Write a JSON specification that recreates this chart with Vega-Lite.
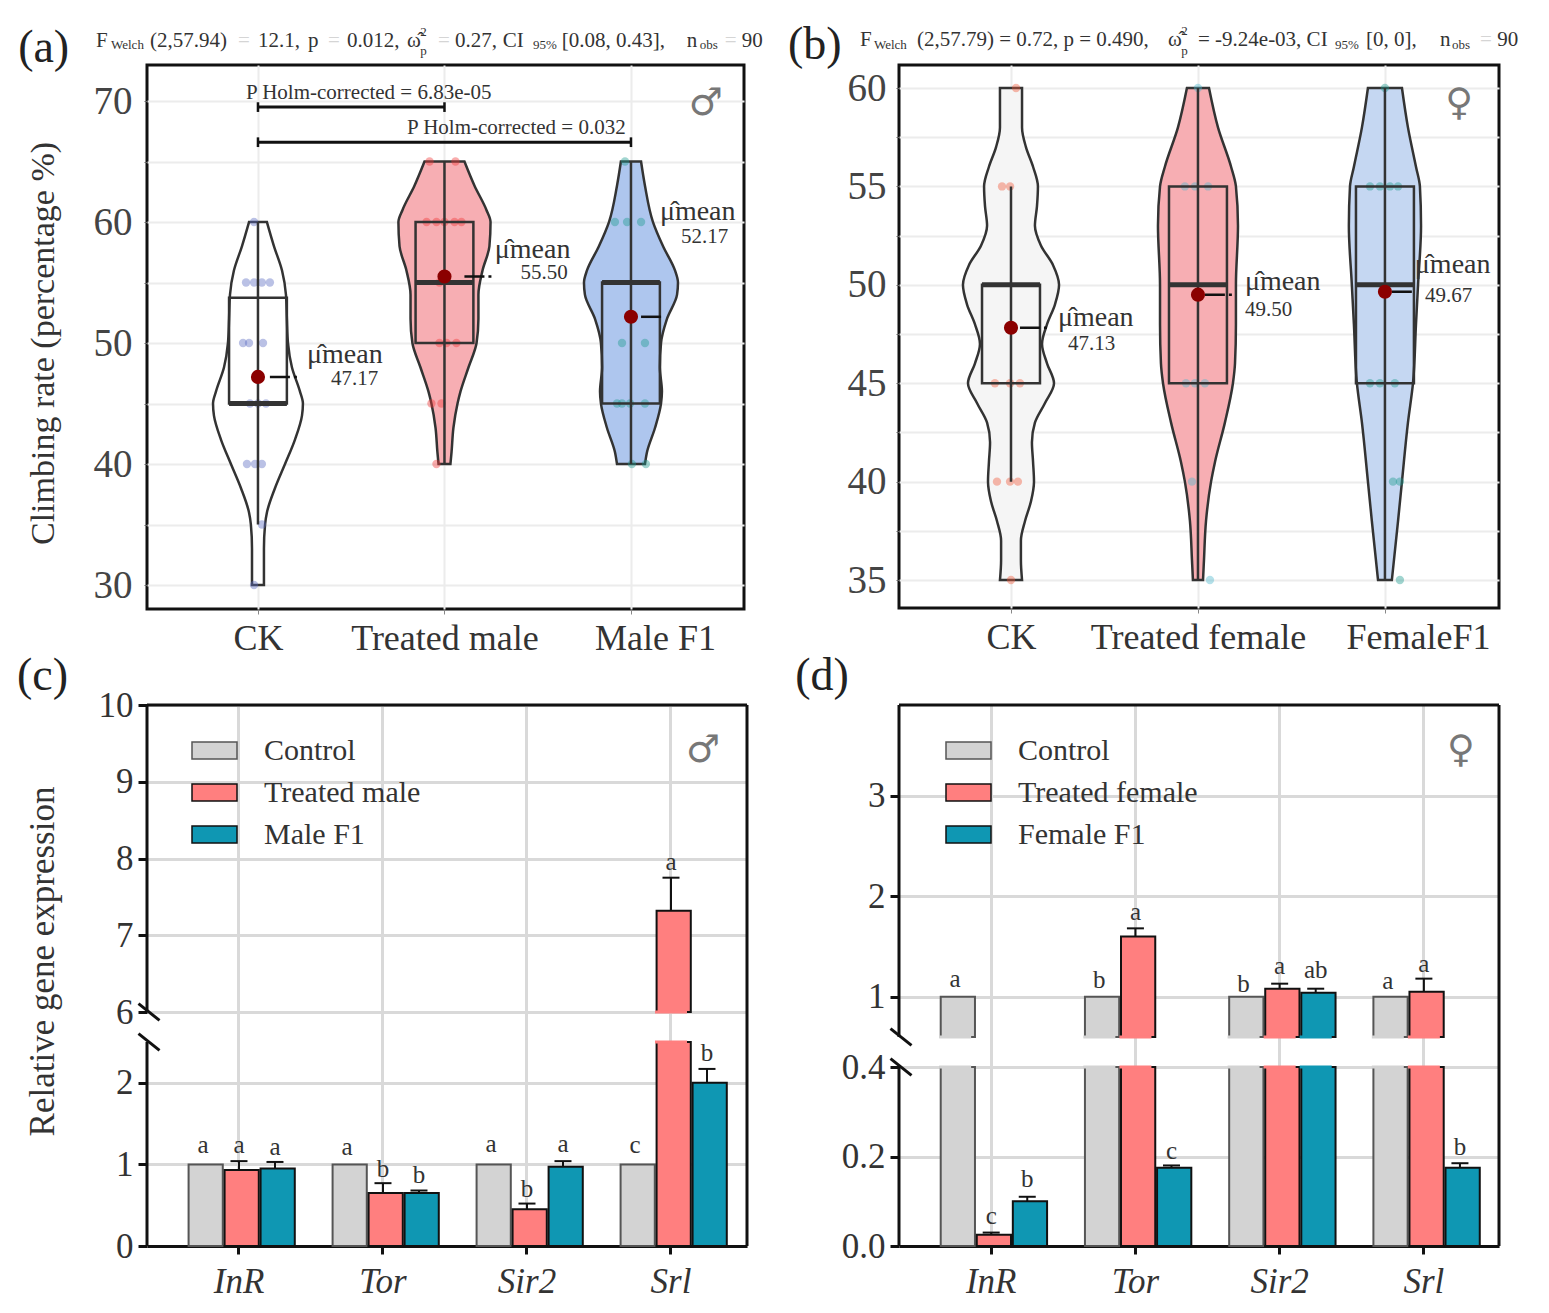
{"$schema":"https://vega.github.io/schema/vega-lite/v6.json","background":"white","padding":{"left":16,"top":20,"right":0,"bottom":0},"config":{"font":"Liberation Serif","axis":{"labelFont":"Liberation Serif","titleFont":"Liberation Serif","titleFontWeight":"normal"},"legend":{"labelFont":"Liberation Serif"}},
"datasets":{
"aV":[{"g":"CK","v":60,"lo":0.952,"hi":1.048},{"g":"CK","v":58,"lo":0.914,"hi":1.086},{"g":"CK","v":56,"lo":0.871,"hi":1.129},{"g":"CK","v":54,"lo":0.85,"hi":1.15},{"g":"CK","v":52,"lo":0.845,"hi":1.155},{"g":"CK","v":50,"lo":0.839,"hi":1.161},{"g":"CK","v":48,"lo":0.818,"hi":1.182},{"g":"CK","v":46,"lo":0.775,"hi":1.225},{"g":"CK","v":45,"lo":0.759,"hi":1.241},{"g":"CK","v":44,"lo":0.764,"hi":1.236},{"g":"CK","v":42,"lo":0.802,"hi":1.198},{"g":"CK","v":40,"lo":0.855,"hi":1.145},{"g":"CK","v":38,"lo":0.909,"hi":1.091},{"g":"CK","v":36,"lo":0.952,"hi":1.048},{"g":"CK","v":35,"lo":0.962,"hi":1.038},{"g":"CK","v":33,"lo":0.968,"hi":1.032},{"g":"CK","v":30,"lo":0.968,"hi":1.032},
{"g":"T","v":65,"lo":1.893,"hi":2.107},{"g":"T","v":63,"lo":1.839,"hi":2.161},{"g":"T","v":61,"lo":1.775,"hi":2.225},{"g":"T","v":60,"lo":1.753,"hi":2.247},{"g":"T","v":58,"lo":1.759,"hi":2.241},{"g":"T","v":56,"lo":1.796,"hi":2.204},{"g":"T","v":54,"lo":1.818,"hi":2.182},{"g":"T","v":52,"lo":1.818,"hi":2.182},{"g":"T","v":50,"lo":1.828,"hi":2.172},{"g":"T","v":48,"lo":1.871,"hi":2.129},{"g":"T","v":46,"lo":1.914,"hi":2.086},{"g":"T","v":45,"lo":1.93,"hi":2.07},{"g":"T","v":43,"lo":1.952,"hi":2.048},{"g":"T","v":41,"lo":1.962,"hi":2.038},{"g":"T","v":40,"lo":1.968,"hi":2.032},
{"g":"F","v":65,"lo":2.946,"hi":3.054},{"g":"F","v":63,"lo":2.925,"hi":3.075},{"g":"F","v":60,"lo":2.882,"hi":3.118},{"g":"F","v":58,"lo":2.828,"hi":3.172},{"g":"F","v":56,"lo":2.764,"hi":3.236},{"g":"F","v":55,"lo":2.748,"hi":3.252},{"g":"F","v":54,"lo":2.753,"hi":3.247},{"g":"F","v":52,"lo":2.807,"hi":3.193},{"g":"F","v":50,"lo":2.839,"hi":3.161},{"g":"F","v":48,"lo":2.845,"hi":3.155},{"g":"F","v":46,"lo":2.834,"hi":3.166},{"g":"F","v":45,"lo":2.839,"hi":3.161},{"g":"F","v":43,"lo":2.871,"hi":3.129},{"g":"F","v":41,"lo":2.914,"hi":3.086},{"g":"F","v":40,"lo":2.925,"hi":3.075}],
"aD":[{"g":"CK","x":0.979,"v":60},{"g":"CK","x":0.936,"v":55},{"g":"CK","x":0.979,"v":55},{"g":"CK","x":1.021,"v":55},{"g":"CK","x":1.064,"v":55},{"g":"CK","x":0.92,"v":50},{"g":"CK","x":0.952,"v":50},{"g":"CK","x":1.027,"v":50},{"g":"CK","x":0.957,"v":45},{"g":"CK","x":1,"v":45},{"g":"CK","x":1.043,"v":45},{"g":"CK","x":0.941,"v":40},{"g":"CK","x":0.984,"v":40},{"g":"CK","x":1.021,"v":40},{"g":"CK","x":1.021,"v":35},{"g":"CK","x":0.979,"v":30},
{"g":"T","x":1.92,"v":65},{"g":"T","x":2.059,"v":65},{"g":"T","x":1.904,"v":60},{"g":"T","x":1.957,"v":60},{"g":"T","x":2,"v":60},{"g":"T","x":2.054,"v":60},{"g":"T","x":2.091,"v":60},{"g":"T","x":1.973,"v":55},{"g":"T","x":1.973,"v":50},{"g":"T","x":2.011,"v":50},{"g":"T","x":2.064,"v":50},{"g":"T","x":1.93,"v":45},{"g":"T","x":1.984,"v":45},{"g":"T","x":1.957,"v":40},
{"g":"F","x":2.968,"v":65},{"g":"F","x":2.914,"v":60},{"g":"F","x":2.979,"v":60},{"g":"F","x":3.054,"v":60},{"g":"F","x":2.952,"v":50},{"g":"F","x":3.075,"v":50},{"g":"F","x":2.925,"v":45},{"g":"F","x":2.952,"v":45},{"g":"F","x":2.995,"v":45},{"g":"F","x":3.075,"v":45},{"g":"F","x":3.005,"v":40},{"g":"F","x":3.08,"v":40}],
"aB":[{"g":"CK","p":1,"x0":0.845,"x1":1.155,"q1":45,"q3":53.75,"med":45,"wl":35,"wh":60,"mean":47.2,"d0":1.064,"d1":1.236},{"g":"T","p":2,"x0":1.845,"x1":2.155,"q1":50,"q3":60,"med":55,"wl":40,"wh":65,"mean":55.5,"d0":2.107,"d1":2.252},{"g":"F","p":3,"x0":2.845,"x1":3.155,"q1":45,"q3":55,"med":55,"wl":40,"wh":65,"mean":52.17,"d0":3.054,"d1":3.172}],
"aT":[{"k":"t","x":0.132,"y":74.96,"s":"F"},{"k":"s","x":0.212,"y":74.63,"s":"Welch"},{"k":"t","x":0.421,"y":74.96,"s":"(2,57.94)"},{"k":"t","x":0.893,"y":74.96,"s":"="},{"k":"t","x":1,"y":74.96,"s":"12.1,"},{"k":"t","x":1.268,"y":74.96,"s":"p"},{"k":"t","x":1.375,"y":74.96,"s":"="},{"k":"t","x":1.477,"y":74.96,"s":"0.012,"},{"k":"t","x":1.799,"y":74.96,"s":"ω̂"},{"k":"s","x":1.87,"y":75.7,"s":"2"},{"k":"s","x":1.87,"y":74.13,"s":"p"},{"k":"t","x":1.965,"y":74.96,"s":"="},{"k":"t","x":2.056,"y":74.96,"s":"0.27,"},{"k":"t","x":2.313,"y":74.96,"s":"CI"},{"k":"s","x":2.474,"y":74.63,"s":"95%"},{"k":"t","x":2.629,"y":74.96,"s":"[0.08, 0.43],"},{"k":"t","x":3.299,"y":74.96,"s":"n"},{"k":"s","x":3.369,"y":74.63,"s":"obs"},{"k":"t","x":3.503,"y":74.96,"s":"="},{"k":"t","x":3.594,"y":74.96,"s":"90"},
{"k":"t","x":0.936,"y":70.66,"s":"P Holm-corrected = 6.83e-05"},{"k":"t","x":1.799,"y":67.77,"s":"P Holm-corrected = 0.032"},
{"k":"m","x":1.263,"y":49,"s":"μ̂mean"},{"k":"t","x":1.391,"y":47,"s":"47.17"},{"k":"m","x":2.27,"y":57.7,"s":"μ̂mean"},{"k":"t","x":2.407,"y":55.75,"s":"55.50"},{"k":"m","x":3.155,"y":60.8,"s":"μ̂mean"},{"k":"t","x":3.268,"y":58.8,"s":"52.17"},
{"k":"b","x":-0.286,"y":74.38,"s":"(a)"}],
"bV":[{"g":"CK","v":60,"lo":0.941,"hi":1.059},{"g":"CK","v":58,"lo":0.941,"hi":1.059},{"g":"CK","v":57,"lo":0.92,"hi":1.08},{"g":"CK","v":56,"lo":0.882,"hi":1.118},{"g":"CK","v":55,"lo":0.856,"hi":1.144},{"g":"CK","v":54,"lo":0.861,"hi":1.139},{"g":"CK","v":53,"lo":0.872,"hi":1.128},{"g":"CK","v":52,"lo":0.84,"hi":1.16},{"g":"CK","v":51,"lo":0.775,"hi":1.225},{"g":"CK","v":50,"lo":0.743,"hi":1.257},{"g":"CK","v":49,"lo":0.765,"hi":1.235},{"g":"CK","v":48,"lo":0.807,"hi":1.193},{"g":"CK","v":47,"lo":0.834,"hi":1.166},{"g":"CK","v":46,"lo":0.807,"hi":1.193},{"g":"CK","v":45,"lo":0.77,"hi":1.23},{"g":"CK","v":44,"lo":0.818,"hi":1.182},{"g":"CK","v":43,"lo":0.872,"hi":1.128},{"g":"CK","v":42,"lo":0.888,"hi":1.112},{"g":"CK","v":41,"lo":0.882,"hi":1.118},{"g":"CK","v":40,"lo":0.877,"hi":1.123},{"g":"CK","v":39,"lo":0.893,"hi":1.107},{"g":"CK","v":38,"lo":0.925,"hi":1.075},{"g":"CK","v":37,"lo":0.947,"hi":1.053},{"g":"CK","v":36,"lo":0.947,"hi":1.053},{"g":"CK","v":35,"lo":0.941,"hi":1.059},
{"g":"T","v":60,"lo":1.941,"hi":2.059},{"g":"T","v":58,"lo":1.893,"hi":2.107},{"g":"T","v":56,"lo":1.823,"hi":2.177},{"g":"T","v":55,"lo":1.797,"hi":2.203},{"g":"T","v":53,"lo":1.786,"hi":2.214},{"g":"T","v":50,"lo":1.797,"hi":2.203},{"g":"T","v":48,"lo":1.797,"hi":2.203},{"g":"T","v":46,"lo":1.802,"hi":2.198},{"g":"T","v":45,"lo":1.813,"hi":2.187},{"g":"T","v":43,"lo":1.856,"hi":2.144},{"g":"T","v":41,"lo":1.909,"hi":2.091},{"g":"T","v":40,"lo":1.93,"hi":2.07},{"g":"T","v":38,"lo":1.957,"hi":2.043},{"g":"T","v":36,"lo":1.968,"hi":2.032},{"g":"T","v":35,"lo":1.973,"hi":2.027},
{"g":"F","v":60,"lo":2.909,"hi":3.091},{"g":"F","v":58,"lo":2.877,"hi":3.123},{"g":"F","v":56,"lo":2.834,"hi":3.166},{"g":"F","v":55,"lo":2.813,"hi":3.187},{"g":"F","v":53,"lo":2.807,"hi":3.193},{"g":"F","v":50,"lo":2.823,"hi":3.177},{"g":"F","v":48,"lo":2.834,"hi":3.166},{"g":"F","v":45,"lo":2.85,"hi":3.15},{"g":"F","v":43,"lo":2.877,"hi":3.123},{"g":"F","v":40,"lo":2.909,"hi":3.091},{"g":"F","v":38,"lo":2.93,"hi":3.07},{"g":"F","v":35,"lo":2.963,"hi":3.037}],
"bD":[{"g":"CK","x":1.027,"v":60},{"g":"CK","x":0.952,"v":55},{"g":"CK","x":0.995,"v":55},{"g":"CK","x":0.914,"v":45},{"g":"CK","x":0.995,"v":45},{"g":"CK","x":1.048,"v":45},{"g":"CK","x":0.925,"v":40},{"g":"CK","x":0.995,"v":40},{"g":"CK","x":1.037,"v":40},{"g":"CK","x":1,"v":35},
{"g":"T","x":2,"v":60},{"g":"T","x":1.93,"v":55},{"g":"T","x":1.984,"v":55},{"g":"T","x":2.054,"v":55},{"g":"T","x":1.936,"v":45},{"g":"T","x":1.984,"v":45},{"g":"T","x":2.037,"v":45},{"g":"T","x":1.968,"v":40},{"g":"T","x":2.064,"v":35},
{"g":"F","x":3,"v":60},{"g":"F","x":2.92,"v":55},{"g":"F","x":2.973,"v":55},{"g":"F","x":3.027,"v":55},{"g":"F","x":3.07,"v":55},{"g":"F","x":2.92,"v":45},{"g":"F","x":2.973,"v":45},{"g":"F","x":3.053,"v":45},{"g":"F","x":3.043,"v":40},{"g":"F","x":3.08,"v":40},{"g":"F","x":3.08,"v":35}],
"bB":[{"g":"CK","p":1,"x0":0.845,"x1":1.155,"q1":45,"q3":50,"med":50,"wl":40,"wh":55,"mean":47.82,"d0":1.048,"d1":1.209},{"g":"T","p":2,"x0":1.845,"x1":2.155,"q1":45,"q3":55,"med":50,"wl":35,"wh":60,"mean":49.5,"d0":2.037,"d1":2.225},{"g":"F","p":3,"x0":2.845,"x1":3.155,"q1":45,"q3":55,"med":50,"wl":35,"wh":60,"mean":49.65,"d0":3.037,"d1":3.144}],
"bT":[{"k":"t","x":0.192,"y":62.44,"s":"F"},{"k":"s","x":0.267,"y":62.18,"s":"Welch"},{"k":"t","x":0.497,"y":62.44,"s":"(2,57.79) = 0.72, p = 0.490,"},{"k":"t","x":1.84,"y":62.44,"s":"ω̂"},{"k":"s","x":1.91,"y":62.9,"s":"2"},{"k":"s","x":1.91,"y":61.88,"s":"p"},{"k":"t","x":2,"y":62.44,"s":"= -9.24e-03, CI"},{"k":"s","x":2.733,"y":62.18,"s":"95%"},{"k":"t","x":2.899,"y":62.44,"s":"[0, 0],"},{"k":"t","x":3.295,"y":62.44,"s":"n"},{"k":"s","x":3.359,"y":62.18,"s":"obs"},{"k":"t","x":3.509,"y":62.44,"s":"="},{"k":"t","x":3.6,"y":62.44,"s":"90"},
{"k":"m","x":1.251,"y":48.3,"s":"μ̂mean"},{"k":"t","x":1.305,"y":46.97,"s":"47.13"},{"k":"m","x":2.251,"y":50.13,"s":"μ̂mean"},{"k":"t","x":2.251,"y":48.7,"s":"49.50"},{"k":"m","x":3.16,"y":50.99,"s":"μ̂mean"},{"k":"t","x":3.214,"y":49.41,"s":"49.67"},
{"k":"b","x":-0.193,"y":62.18,"s":"(b)"}],
"cB":[{"gene":"InR","s":"Control","from":0,"to":1},{"gene":"InR","s":"Treated male","from":0,"to":0.93},{"gene":"InR","s":"Male F1","from":0,"to":0.95},{"gene":"Tor","s":"Control","from":0,"to":1},{"gene":"Tor","s":"Treated male","from":0,"to":0.65},{"gene":"Tor","s":"Male F1","from":0,"to":0.65},{"gene":"Sir2","s":"Control","from":0,"to":1},{"gene":"Sir2","s":"Treated male","from":0,"to":0.45},{"gene":"Sir2","s":"Male F1","from":0,"to":0.97},{"gene":"Srl","s":"Control","from":0,"to":1},{"gene":"Srl","s":"Treated male","from":0,"to":2.5},{"gene":"Srl","s":"Treated male","from":6,"to":7.32},{"gene":"Srl","s":"Male F1","from":0,"to":2}],
"cE":[{"gene":"InR","s":"Control","v":1,"hi":1,"l":"a","ly":1.24},{"gene":"InR","s":"Treated male","v":0.93,"hi":1.04,"l":"a","ly":1.24},{"gene":"InR","s":"Male F1","v":0.95,"hi":1.03,"l":"a","ly":1.21},{"gene":"Tor","s":"Control","v":1,"hi":1,"l":"a","ly":1.21},{"gene":"Tor","s":"Treated male","v":0.65,"hi":0.77,"l":"b","ly":0.94},{"gene":"Tor","s":"Male F1","v":0.65,"hi":0.68,"l":"b","ly":0.87},{"gene":"Sir2","s":"Control","v":1,"hi":1,"l":"a","ly":1.25},{"gene":"Sir2","s":"Treated male","v":0.45,"hi":0.52,"l":"b","ly":0.7},{"gene":"Sir2","s":"Male F1","v":0.97,"hi":1.04,"l":"a","ly":1.25},{"gene":"Srl","s":"Control","v":1,"hi":1,"l":"c","ly":1.24},{"gene":"Srl","s":"Treated male","v":7.32,"hi":7.75,"l":"a","ly":7.95},{"gene":"Srl","s":"Male F1","v":2,"hi":2.17,"l":"b","ly":2.37}],
"dB":[{"gene":"InR","s":"Control","from":0,"to":0.4},{"gene":"InR","s":"Control","from":0.6,"to":1},{"gene":"InR","s":"Treated female","from":0,"to":0.025},{"gene":"InR","s":"Female F1","from":0,"to":0.1},{"gene":"Tor","s":"Control","from":0,"to":0.4},{"gene":"Tor","s":"Control","from":0.6,"to":1},{"gene":"Tor","s":"Treated female","from":0,"to":0.4},{"gene":"Tor","s":"Treated female","from":0.6,"to":1.6},{"gene":"Tor","s":"Female F1","from":0,"to":0.175},{"gene":"Sir2","s":"Control","from":0,"to":0.4},{"gene":"Sir2","s":"Control","from":0.6,"to":1},{"gene":"Sir2","s":"Treated female","from":0,"to":0.4},{"gene":"Sir2","s":"Treated female","from":0.6,"to":1.08},{"gene":"Sir2","s":"Female F1","from":0,"to":0.4},{"gene":"Sir2","s":"Female F1","from":0.6,"to":1.04},{"gene":"Srl","s":"Control","from":0,"to":0.4},{"gene":"Srl","s":"Control","from":0.6,"to":1},{"gene":"Srl","s":"Treated female","from":0,"to":0.4},{"gene":"Srl","s":"Treated female","from":0.6,"to":1.05},{"gene":"Srl","s":"Female F1","from":0,"to":0.175}],
"dE":[{"gene":"InR","s":"Control","v":1,"hi":1,"l":"a","ly":1.18},{"gene":"InR","s":"Treated female","v":0.025,"hi":0.03,"l":"c","ly":0.067},{"gene":"InR","s":"Female F1","v":0.1,"hi":0.11,"l":"b","ly":0.149},{"gene":"Tor","s":"Control","v":1,"hi":1,"l":"b","ly":1.17},{"gene":"Tor","s":"Treated female","v":1.6,"hi":1.68,"l":"a","ly":1.845},{"gene":"Tor","s":"Female F1","v":0.175,"hi":0.18,"l":"c","ly":0.213},{"gene":"Sir2","s":"Control","v":1,"hi":1,"l":"b","ly":1.13},{"gene":"Sir2","s":"Treated female","v":1.08,"hi":1.13,"l":"a","ly":1.31},{"gene":"Sir2","s":"Female F1","v":1.04,"hi":1.08,"l":"ab","ly":1.27},{"gene":"Srl","s":"Control","v":1,"hi":1,"l":"a","ly":1.16},{"gene":"Srl","s":"Treated female","v":1.05,"hi":1.18,"l":"a","ly":1.33},{"gene":"Srl","s":"Female F1","v":0.175,"hi":0.185,"l":"b","ly":0.222}]
},
"bounds":"flush","align":"none","columns":2,"spacing":{"row":96,"column":152},
"resolve":{"scale":{"x":"independent","y":"independent","xOffset":"independent","fill":"independent","stroke":"independent","color":"independent"},"legend":{"fill":"independent","stroke":"independent","color":"independent"},"axis":{"x":"independent","y":"independent"}},
"concat":[
{"width":597,"height":544,"view":{"stroke":"#111","strokeWidth":3},"layer":[
{"data":{"name":"aV"},"mark":{"type":"area","orient":"horizontal","interpolate":"monotone","stroke":"#333","strokeWidth":2.5},"encoding":{
"y":{"field":"v","type":"quantitative","scale":{"domain":[28.02,72.98],"nice":false,"zero":false},"axis":{"values":[30,35,40,45,50,55,60,65,70],"labelExpr":"datum.value%10==0?datum.label:''","grid":true,"gridColor":"#ececec","gridWidth":2,"domain":false,"tickColor":"#666","tickSize":3,"labelFontSize":39,"labelColor":"#444","labelPadding":12,"title":"Climbing rate (percentage %)","titleFontSize":34,"titleColor":"#333","titlePadding":33,"titleY":278}},
"x":{"field":"lo","type":"quantitative","scale":{"domain":[0.405,3.606],"nice":false,"zero":false},"axis":{"values":[1,2,3],"labelExpr":"datum.value==1?'CK':datum.value==2?'Treated male':'Male F1'","labelOffset":{"condition":{"test":"datum.value==3","value":24},"value":0},"labelLimit":400,"grid":true,"gridColor":"#ececec","gridWidth":2,"domain":false,"tickColor":"#888","tickSize":5,"labelFontSize":36,"labelColor":"#333","labelPadding":7,"title":null}},
"x2":{"field":"hi"},
"fill":{"field":"g","type":"nominal","scale":{"domain":["CK","T","F"],"range":["#ffffff","#f7aeb3","#aec6ee"]},"legend":null}}},
{"data":{"name":"aD"},"mark":{"type":"circle","size":70,"opacity":0.42},"encoding":{"x":{"field":"x","type":"quantitative"},"y":{"field":"v","type":"quantitative"},"color":{"field":"g","type":"nominal","scale":{"domain":["CK","T","F"],"range":["#5a6cc0","#f03a3a","#1f9a8f"]},"legend":null}}},
{"data":{"name":"aB"},"layer":[
{"mark":{"type":"rule","color":"#333","strokeWidth":2.5},"encoding":{"x":{"field":"p","type":"quantitative"},"y":{"field":"wl","type":"quantitative"},"y2":{"field":"wh"}}},
{"mark":{"type":"rect","fill":"transparent","stroke":"#333","strokeWidth":2.5},"encoding":{"x":{"field":"x0","type":"quantitative"},"x2":{"field":"x1"},"y":{"field":"q1","type":"quantitative"},"y2":{"field":"q3"}}},
{"mark":{"type":"rule","color":"#333","strokeWidth":5},"encoding":{"x":{"field":"x0","type":"quantitative"},"x2":{"field":"x1"},"y":{"field":"med","type":"quantitative"}}},
{"mark":{"type":"rule","color":"#111","strokeWidth":2.5,"strokeDash":[20,4,3,100]},"encoding":{"x":{"field":"d0","type":"quantitative"},"x2":{"field":"d1"},"y":{"field":"mean","type":"quantitative"}}},
{"mark":{"type":"circle","size":200,"opacity":1,"color":"#8b0000"},"encoding":{"x":{"field":"p","type":"quantitative"},"y":{"field":"mean","type":"quantitative"}}}]},
{"data":{"values":[{"a":1,"b":2,"y":69.5},{"a":1,"b":3,"y":66.6}]},"mark":{"type":"rule","color":"#111","strokeWidth":3},"encoding":{"x":{"field":"a","type":"quantitative"},"x2":{"field":"b"},"y":{"field":"y","type":"quantitative"}}},
{"data":{"values":[{"x":1,"a":69.1,"b":69.9},{"x":2,"a":69.1,"b":69.9},{"x":1,"a":66.2,"b":67},{"x":3,"a":66.2,"b":67}]},"mark":{"type":"rule","color":"#111","strokeWidth":2.5},"encoding":{"x":{"field":"x","type":"quantitative"},"y":{"field":"a","type":"quantitative"},"y2":{"field":"b"}}},
{"data":{"name":"aT"},"transform":[{"filter":"datum.k=='t'"}],"mark":{"type":"text","align":"left","baseline":"middle","fontSize":21},"encoding":{"x":{"field":"x","type":"quantitative"},"y":{"field":"y","type":"quantitative"},"text":{"field":"s"},"color":{"condition":{"test":"datum.s=='='","value":"#d5d5d5"},"value":"#333"}}},
{"data":{"name":"aT"},"transform":[{"filter":"datum.k=='s'"}],"mark":{"type":"text","align":"left","baseline":"middle","fontSize":13,"color":"#333"},"encoding":{"x":{"field":"x","type":"quantitative"},"y":{"field":"y","type":"quantitative"},"text":{"field":"s"}}},
{"data":{"name":"aT"},"transform":[{"filter":"datum.k=='m'"}],"mark":{"type":"text","align":"left","baseline":"middle","fontSize":28,"color":"#333"},"encoding":{"x":{"field":"x","type":"quantitative"},"y":{"field":"y","type":"quantitative"},"text":{"field":"s"}}},
{"data":{"name":"aT"},"transform":[{"filter":"datum.k=='b'"}],"mark":{"type":"text","align":"left","baseline":"middle","fontSize":46,"color":"#222"},"encoding":{"x":{"field":"x","type":"quantitative"},"y":{"field":"y","type":"quantitative"},"text":{"field":"s"}}},
{"data":{"values":[{"x":3.401,"y":69.75,"s":"♂"}]},"mark":{"type":"text","font":"DejaVu Sans","fontSize":38,"color":"#777"},"encoding":{"x":{"field":"x","type":"quantitative"},"y":{"field":"y","type":"quantitative"},"text":{"field":"s"}}}
]},
{"width":600,"height":543,"view":{"stroke":"#111","strokeWidth":3},"layer":[
{"data":{"name":"bV"},"mark":{"type":"area","orient":"horizontal","interpolate":"monotone","stroke":"#333","strokeWidth":2.5},"encoding":{
"y":{"field":"v","type":"quantitative","scale":{"domain":[33.58,61.17],"nice":false,"zero":false},"axis":{"values":[35,37.5,40,42.5,45,47.5,50,52.5,55,57.5,60],"labelExpr":"datum.value%5==0?datum.label:''","grid":true,"gridColor":"#ececec","gridWidth":2,"domain":false,"tickColor":"#666","tickSize":3,"labelFontSize":39,"labelColor":"#444","labelPadding":10,"title":null}},
"x":{"field":"lo","type":"quantitative","scale":{"domain":[0.401,3.61],"nice":false,"zero":false},"axis":{"values":[1,2,3],"labelExpr":"datum.value==1?'CK':datum.value==2?'Treated female':'FemaleF1'","labelOffset":{"condition":{"test":"datum.value==3","value":33},"value":0},"labelLimit":400,"grid":true,"gridColor":"#ececec","gridWidth":2,"domain":false,"tickColor":"#888","tickSize":5,"labelFontSize":36,"labelColor":"#333","labelPadding":7,"title":null}},
"x2":{"field":"hi"},
"fill":{"field":"g","type":"nominal","scale":{"domain":["CK","T","F"],"range":["#f5f5f5","#f7aeb3","#c5d7f2"]},"legend":null}}},
{"data":{"name":"bD"},"mark":{"type":"circle","size":70,"opacity":0.42},"encoding":{"x":{"field":"x","type":"quantitative"},"y":{"field":"v","type":"quantitative"},"color":{"field":"g","type":"nominal","scale":{"domain":["CK","T","F"],"range":["#f05a3c","#4fb8cc","#1f9a8f"]},"legend":null}}},
{"data":{"name":"bB"},"layer":[
{"mark":{"type":"rule","color":"#333","strokeWidth":2.5},"encoding":{"x":{"field":"p","type":"quantitative"},"y":{"field":"wl","type":"quantitative"},"y2":{"field":"wh"}}},
{"mark":{"type":"rect","fill":"transparent","stroke":"#333","strokeWidth":2.5},"encoding":{"x":{"field":"x0","type":"quantitative"},"x2":{"field":"x1"},"y":{"field":"q1","type":"quantitative"},"y2":{"field":"q3"}}},
{"mark":{"type":"rule","color":"#333","strokeWidth":5},"encoding":{"x":{"field":"x0","type":"quantitative"},"x2":{"field":"x1"},"y":{"field":"med","type":"quantitative"}}},
{"mark":{"type":"rule","color":"#111","strokeWidth":2.5,"strokeDash":[20,4,3,100]},"encoding":{"x":{"field":"d0","type":"quantitative"},"x2":{"field":"d1"},"y":{"field":"mean","type":"quantitative"}}},
{"mark":{"type":"circle","size":200,"opacity":1,"color":"#8b0000"},"encoding":{"x":{"field":"p","type":"quantitative"},"y":{"field":"mean","type":"quantitative"}}}]},
{"data":{"name":"bT"},"transform":[{"filter":"datum.k=='t'"}],"mark":{"type":"text","align":"left","baseline":"middle","fontSize":21},"encoding":{"x":{"field":"x","type":"quantitative"},"y":{"field":"y","type":"quantitative"},"text":{"field":"s"},"color":{"condition":{"test":"datum.s=='='","value":"#d5d5d5"},"value":"#333"}}},
{"data":{"name":"bT"},"transform":[{"filter":"datum.k=='s'"}],"mark":{"type":"text","align":"left","baseline":"middle","fontSize":13,"color":"#333"},"encoding":{"x":{"field":"x","type":"quantitative"},"y":{"field":"y","type":"quantitative"},"text":{"field":"s"}}},
{"data":{"name":"bT"},"transform":[{"filter":"datum.k=='m'"}],"mark":{"type":"text","align":"left","baseline":"middle","fontSize":28,"color":"#333"},"encoding":{"x":{"field":"x","type":"quantitative"},"y":{"field":"y","type":"quantitative"},"text":{"field":"s"}}},
{"data":{"name":"bT"},"transform":[{"filter":"datum.k=='b'"}],"mark":{"type":"text","align":"left","baseline":"middle","fontSize":46,"color":"#222"},"encoding":{"x":{"field":"x","type":"quantitative"},"y":{"field":"y","type":"quantitative"},"text":{"field":"s"}}},
{"data":{"values":[{"x":3.397,"y":59.19,"s":"♀"}]},"mark":{"type":"text","font":"DejaVu Sans","fontSize":38,"color":"#777"},"encoding":{"x":{"field":"x","type":"quantitative"},"y":{"field":"y","type":"quantitative"},"text":{"field":"s"}}}
]},
{"width":600,"height":541,"view":{"stroke":null},"layer":[
{"data":{"name":"cB"},"mark":{"type":"bar","width":{"band":0.95},"strokeWidth":2},"encoding":{
"x":{"field":"gene","type":"nominal","sort":["InR","Tor","Sir2","Srl"],"scale":{"paddingInner":0,"paddingOuter":0.0833,"align":0.833},"axis":{"grid":true,"gridColor":"#d9d9d9","gridWidth":3,"domainColor":"#111","domainWidth":3,"tickColor":"#111","tickWidth":3,"tickSize":8,"labelAngle":0,"labelFontSize":35,"labelFontStyle":"italic","labelColor":"#333","labelPadding":10,"title":null}},
"xOffset":{"field":"s","type":"nominal","sort":["Control","Treated male","Male F1"],"scale":{"domain":["Control","Treated male","Male F1"],"paddingInner":0,"paddingOuter":0.5}},
"y":{"field":"from","type":"quantitative","scale":{"domain":[0,2.5,6,10],"range":[541,337,307,0],"nice":false,"zero":false},"axis":{"values":[0,1,2,6,7,8,9,10],"grid":true,"gridColor":"#d9d9d9","gridWidth":3,"domain":false,"tickColor":"#111","tickWidth":3,"tickSize":9,"labelFontSize":35,"labelColor":"#333","labelPadding":5,"title":"Relative gene expression","titleFontSize":35,"titleColor":"#333","titlePadding":38,"titleY":256}},
"y2":{"field":"to"},
"fill":{"field":"s","type":"nominal","scale":{"domain":["Control","Treated male","Male F1"],"range":["#d3d3d3","#ff7f7f","#0f97b3"]},"legend":{"title":null,"orient":"none","legendX":44,"legendY":22,"symbolType":"M-1,-0.38H1V0.38H-1Z","symbolSize":2025,"symbolOpacity":1,"labelFontSize":30,"labelColor":"#333","labelOffset":26,"labelLimit":400,"rowPadding":3}},
"stroke":{"field":"s","type":"nominal","scale":{"domain":["Control","Treated male","Male F1"],"range":["#555555","#111111","#111111"]}}}},
{"data":{"name":"cB"},"transform":[{"filter":"datum.from>0"}],"mark":{"type":"tick","size":32,"thickness":3,"opacity":1},"encoding":{"x":{"field":"gene","type":"nominal","sort":["InR","Tor","Sir2","Srl"]},"xOffset":{"field":"s","type":"nominal","sort":["Control","Treated male","Male F1"]},"y":{"field":"from","type":"quantitative"},"fill":{"field":"s","type":"nominal"},"stroke":{"value":null}}},
{"data":{"name":"cB"},"transform":[{"filter":"datum.to==2.5"}],"mark":{"type":"tick","size":32,"thickness":3,"opacity":1},"encoding":{"x":{"field":"gene","type":"nominal","sort":["InR","Tor","Sir2","Srl"]},"xOffset":{"field":"s","type":"nominal","sort":["Control","Treated male","Male F1"]},"y":{"field":"to","type":"quantitative"},"fill":{"field":"s","type":"nominal"},"stroke":{"value":null}}},
{"data":{"name":"cE"},"transform":[{"filter":"datum.hi>datum.v"}],"mark":{"type":"rule","color":"#111","strokeWidth":2},"encoding":{"x":{"field":"gene","type":"nominal","sort":["InR","Tor","Sir2","Srl"]},"xOffset":{"field":"s","type":"nominal","sort":["Control","Treated male","Male F1"]},"y":{"field":"v","type":"quantitative"},"y2":{"field":"hi"}}},
{"data":{"name":"cE"},"transform":[{"filter":"datum.hi>datum.v"}],"mark":{"type":"tick","size":17,"thickness":2,"color":"#111","opacity":1},"encoding":{"x":{"field":"gene","type":"nominal","sort":["InR","Tor","Sir2","Srl"]},"xOffset":{"field":"s","type":"nominal","sort":["Control","Treated male","Male F1"]},"y":{"field":"hi","type":"quantitative"}}},
{"data":{"name":"cE"},"mark":{"type":"text","fontSize":25,"color":"#333","baseline":"middle"},"encoding":{"x":{"field":"gene","type":"nominal","sort":["InR","Tor","Sir2","Srl"]},"xOffset":{"field":"s","type":"nominal","sort":["Control","Treated male","Male F1"]},"y":{"field":"ly","type":"quantitative"},"text":{"field":"l"}}},
{"data":{"values":[{"a":0,"b":2.5},{"a":6,"b":10}]},"mark":{"type":"rule","color":"#111","strokeWidth":3},"encoding":{"x":{"value":0},"y":{"field":"a","type":"quantitative"},"y2":{"field":"b"}}},
{"data":{"values":[{"a":0,"b":10}]},"mark":{"type":"rule","color":"#111","strokeWidth":3},"encoding":{"x":{"value":"width"},"y":{"field":"a","type":"quantitative"},"y2":{"field":"b"}}},
{"data":{"values":[{"a":10}]},"mark":{"type":"rule","color":"#111","strokeWidth":3},"encoding":{"x":{"value":0},"x2":{"value":"width"},"y":{"field":"a","type":"quantitative"}}},
{"data":{"values":[{"a":6},{"a":2.5}]},"mark":{"type":"point","shape":"M-1,-0.8L1,0.8","size":441,"stroke":"#111","strokeWidth":3,"filled":false,"opacity":1},"encoding":{"x":{"value":2},"y":{"field":"a","type":"quantitative"}}},
{"data":{"values":[{"gene":"InR","y":10.38,"s":"(c)"}]},"mark":{"type":"text","align":"left","baseline":"middle","fontSize":46,"color":"#222","dx":-222},"encoding":{"x":{"field":"gene","type":"nominal","sort":["InR","Tor","Sir2","Srl"]},"y":{"field":"y","type":"quantitative"},"text":{"field":"s"}}},
{"data":{"values":[{"gene":"Srl","y":9.4,"s":"♂"}]},"mark":{"type":"text","font":"DejaVu Sans","fontSize":38,"color":"#777","dx":32},"encoding":{"x":{"field":"gene","type":"nominal","sort":["InR","Tor","Sir2","Srl"]},"y":{"field":"y","type":"quantitative"},"text":{"field":"s"}}}
]},
{"width":600,"height":541,"view":{"stroke":null},"layer":[
{"data":{"name":"dB"},"mark":{"type":"bar","width":{"band":0.95},"strokeWidth":2},"encoding":{
"x":{"field":"gene","type":"nominal","sort":["InR","Tor","Sir2","Srl"],"scale":{"paddingInner":0,"paddingOuter":0.08,"align":0.87},"axis":{"grid":true,"gridColor":"#d9d9d9","gridWidth":3,"domainColor":"#111","domainWidth":3,"tickColor":"#111","tickWidth":3,"tickSize":8,"labelAngle":0,"labelFontSize":35,"labelFontStyle":"italic","labelColor":"#333","labelPadding":10,"title":null}},
"xOffset":{"field":"s","type":"nominal","sort":["Control","Treated female","Female F1"],"scale":{"domain":["Control","Treated female","Female F1"],"paddingInner":0,"paddingOuter":0.5}},
"y":{"field":"from","type":"quantitative","scale":{"domain":[0,0.4,0.6,3.9],"range":[541,362,332,0],"nice":false,"zero":false},"axis":{"values":[0,0.2,0.4,1,2,3],"labelExpr":"datum.value<1?format(datum.value,'.1f'):format(datum.value,'d')","grid":true,"gridColor":"#d9d9d9","gridWidth":3,"domain":false,"tickColor":"#111","tickWidth":3,"tickSize":9,"labelFontSize":35,"labelColor":"#333","labelPadding":5,"title":null}},
"y2":{"field":"to"},
"fill":{"field":"s","type":"nominal","scale":{"domain":["Control","Treated female","Female F1"],"range":["#d3d3d3","#ff7f7f","#0f97b3"]},"legend":{"title":null,"orient":"none","legendX":46,"legendY":22,"symbolType":"M-1,-0.38H1V0.38H-1Z","symbolSize":2025,"symbolOpacity":1,"labelFontSize":30,"labelColor":"#333","labelOffset":26,"labelLimit":400,"rowPadding":3}},
"stroke":{"field":"s","type":"nominal","scale":{"domain":["Control","Treated female","Female F1"],"range":["#555555","#111111","#111111"]}}}},
{"data":{"name":"dB"},"transform":[{"filter":"datum.from>0"}],"mark":{"type":"tick","size":32,"thickness":3,"opacity":1},"encoding":{"x":{"field":"gene","type":"nominal","sort":["InR","Tor","Sir2","Srl"]},"xOffset":{"field":"s","type":"nominal","sort":["Control","Treated female","Female F1"]},"y":{"field":"from","type":"quantitative"},"fill":{"field":"s","type":"nominal"},"stroke":{"value":null}}},
{"data":{"name":"dB"},"transform":[{"filter":"datum.to==0.4"}],"mark":{"type":"tick","size":32,"thickness":3,"opacity":1},"encoding":{"x":{"field":"gene","type":"nominal","sort":["InR","Tor","Sir2","Srl"]},"xOffset":{"field":"s","type":"nominal","sort":["Control","Treated female","Female F1"]},"y":{"field":"to","type":"quantitative"},"fill":{"field":"s","type":"nominal"},"stroke":{"value":null}}},
{"data":{"name":"dE"},"transform":[{"filter":"datum.hi>datum.v"}],"mark":{"type":"rule","color":"#111","strokeWidth":2},"encoding":{"x":{"field":"gene","type":"nominal","sort":["InR","Tor","Sir2","Srl"]},"xOffset":{"field":"s","type":"nominal","sort":["Control","Treated female","Female F1"]},"y":{"field":"v","type":"quantitative"},"y2":{"field":"hi"}}},
{"data":{"name":"dE"},"transform":[{"filter":"datum.hi>datum.v"}],"mark":{"type":"tick","size":17,"thickness":2,"color":"#111","opacity":1},"encoding":{"x":{"field":"gene","type":"nominal","sort":["InR","Tor","Sir2","Srl"]},"xOffset":{"field":"s","type":"nominal","sort":["Control","Treated female","Female F1"]},"y":{"field":"hi","type":"quantitative"}}},
{"data":{"name":"dE"},"mark":{"type":"text","fontSize":25,"color":"#333","baseline":"middle"},"encoding":{"x":{"field":"gene","type":"nominal","sort":["InR","Tor","Sir2","Srl"]},"xOffset":{"field":"s","type":"nominal","sort":["Control","Treated female","Female F1"]},"y":{"field":"ly","type":"quantitative"},"text":{"field":"l"}}},
{"data":{"values":[{"a":0,"b":0.4},{"a":0.6,"b":3.9}]},"mark":{"type":"rule","color":"#111","strokeWidth":3},"encoding":{"x":{"value":0},"y":{"field":"a","type":"quantitative"},"y2":{"field":"b"}}},
{"data":{"values":[{"a":0,"b":3.9}]},"mark":{"type":"rule","color":"#111","strokeWidth":3},"encoding":{"x":{"value":"width"},"y":{"field":"a","type":"quantitative"},"y2":{"field":"b"}}},
{"data":{"values":[{"a":3.9}]},"mark":{"type":"rule","color":"#111","strokeWidth":3},"encoding":{"x":{"value":0},"x2":{"value":"width"},"y":{"field":"a","type":"quantitative"}}},
{"data":{"values":[{"a":0.6},{"a":0.4}]},"mark":{"type":"point","shape":"M-1,-0.8L1,0.8","size":441,"stroke":"#111","strokeWidth":3,"filled":false,"opacity":1},"encoding":{"x":{"value":2},"y":{"field":"a","type":"quantitative"}}},
{"data":{"values":[{"gene":"InR","y":4.19,"s":"(d)"}]},"mark":{"type":"text","align":"left","baseline":"middle","fontSize":46,"color":"#222","dx":-196},"encoding":{"x":{"field":"gene","type":"nominal","sort":["InR","Tor","Sir2","Srl"]},"y":{"field":"y","type":"quantitative"},"text":{"field":"s"}}},
{"data":{"values":[{"gene":"Srl","y":3.445,"s":"♀"}]},"mark":{"type":"text","font":"DejaVu Sans","fontSize":38,"color":"#777","dx":37},"encoding":{"x":{"field":"gene","type":"nominal","sort":["InR","Tor","Sir2","Srl"]},"y":{"field":"y","type":"quantitative"},"text":{"field":"s"}}}
]}
]}
